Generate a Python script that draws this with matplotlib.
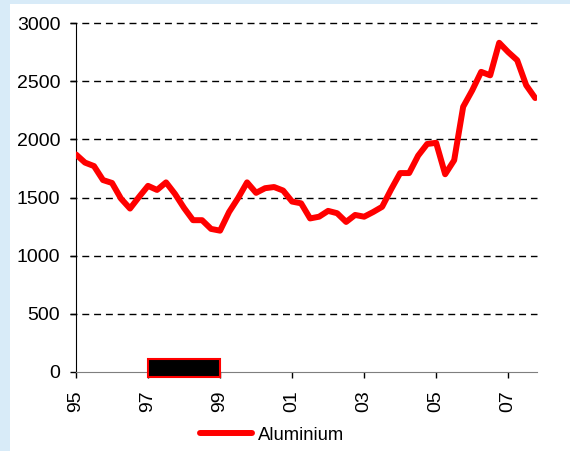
import numpy as np
import matplotlib.pyplot as plt
from matplotlib.patches import Rectangle

plt.rcParams['font.family'] = ['Liberation Sans', 'DejaVu Sans']

# quarterly aluminium price, 1995 Q1 .. 2007 Q4
years = 1995 + np.arange(52) * 0.25
aluminium = [1870, 1800, 1770, 1650, 1625, 1490, 1405, 1505,
             1600, 1565, 1630, 1530, 1410, 1305, 1305, 1230,
             1215, 1375, 1495, 1630, 1540, 1580, 1590, 1560,
             1465, 1450, 1320, 1335, 1385, 1365, 1290, 1350,
             1335, 1375, 1420, 1570, 1710, 1710, 1860, 1960,
             1970, 1700, 1820, 2280, 2420, 2580, 2550, 2830,
             2750, 2680, 2465, 2355]

tick_years = [1995, 1997, 1999, 2001, 2003, 2005, 2007]
tick_labels = ['95', '97', '99', '01', '03', '05', '07']
y_ticks = [0, 500, 1000, 1500, 2000, 2500, 3000]

# highlighted period on the time axis
band_start, band_end = 1997, 1999

fig = plt.figure(figsize=(5.7, 4.51), dpi=100)
fig.patch.set_facecolor('#d8ebf8')
fig.patches.append(Rectangle((10 / 570, 0), 1, 447 / 451, transform=fig.transFigure,
                             facecolor='white', edgecolor='none', zorder=-10))

ax = fig.add_axes([76 / 570, 1 - 372 / 451, 461 / 570, 349 / 451])
ax.set_facecolor('none')

ax.plot(years, aluminium, color='red', lw=4.3, solid_joinstyle='round',
        solid_capstyle='round', label='Aluminium', zorder=3)

ax.add_patch(Rectangle((band_start, -45), band_end - band_start, 155,
                       facecolor='black', edgecolor='red', lw=1.5,
                       clip_on=False, zorder=4))

ax.set_xlim(1995, 2007.8)
ax.set_ylim(0, 3000)
ax.set_xticks(tick_years)
ax.set_xticklabels(tick_labels, rotation=90)
ax.set_yticks(y_ticks)

for y in y_ticks[1:]:
    ax.plot([1995 - 6 / 36, 2007.8], [y, y], color='black', lw=1,
            dashes=(5, 3.5), clip_on=False, zorder=1)

for s in ['top', 'right']:
    ax.spines[s].set_visible(False)
ax.spines['left'].set_color('black')
ax.spines['bottom'].set_color('#7f7f7f')
ax.tick_params(axis='both', direction='out', length=4.3, width=1,
               labelsize=14, pad=7)
ax.tick_params(axis='x', color='black', pad=9)

fig.legend(loc='center', bbox_to_anchor=(272 / 570, 1 - 435 / 451),
           frameon=False, fontsize=13.3, handlelength=2.8, handletextpad=0.3)

fig.savefig('out.png', dpi=100)
